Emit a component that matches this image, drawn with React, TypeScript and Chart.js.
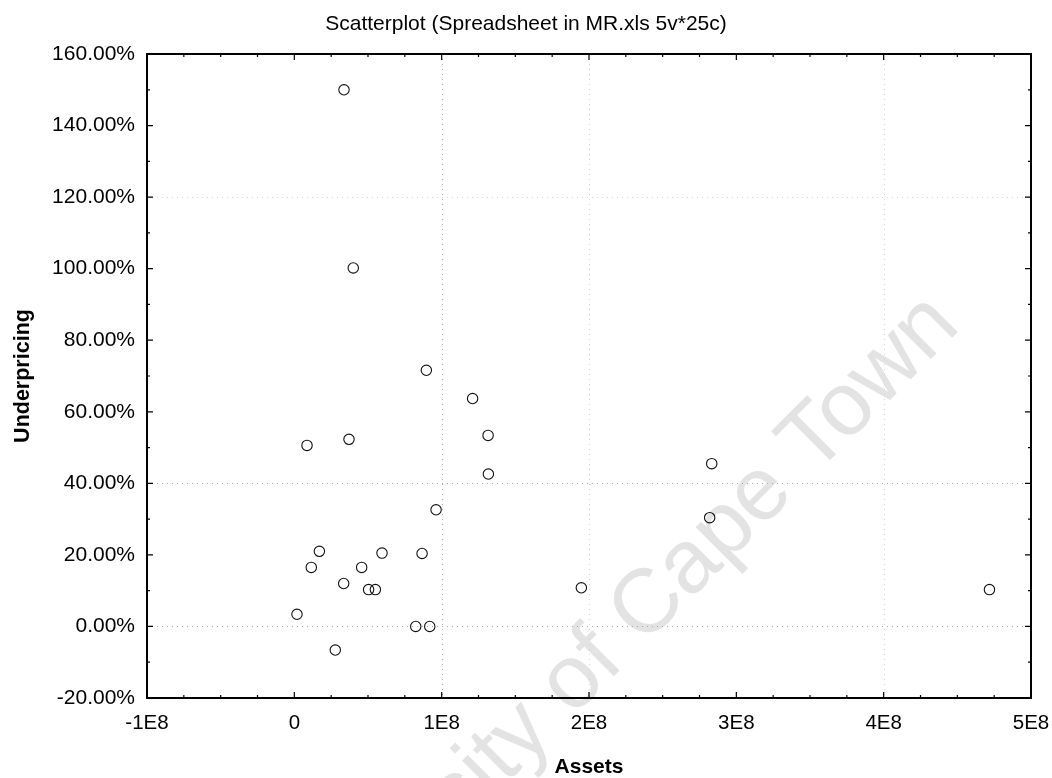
import React, { useEffect, useRef } from 'react';
import { Chart, registerables } from 'chart.js';

Chart.register(...registerables);

const TITLE = 'Scatterplot (Spreadsheet in MR.xls 5v*25c)';
const X_LABEL = 'Assets';
const Y_LABEL = 'Underpricing';
const WATERMARK = 'University of Cape Town';

// Assets (currency units) and Underpricing (%) for the 25 cases
const assets = [
  0.337e8, 0.40e8, 0.896e8, 0.086e8, 0.371e8, 1.21e8, 1.315e8, 1.317e8, 0.962e8,
  0.17e8, 0.115e8, 0.595e8, 0.867e8, 0.457e8, 0.335e8, 0.504e8, 0.55e8, 0.018e8,
  0.278e8, 0.824e8, 0.919e8, 1.948e8, 2.833e8, 2.819e8, 4.718e8,
];
const underpricing = [
  150, 100.2, 71.6, 50.6, 52.3, 63.7, 53.4, 42.6, 32.6,
  21.0, 16.5, 20.5, 20.4, 16.5, 12.0, 10.3, 10.3, 3.4,
  -6.6, 0, 0, 10.8, 45.5, 30.4, 10.3,
];

const X_MIN = -1e8;
const X_MAX = 5e8;
const X_STEP = 1e8;
const X_MINOR = 0.25e8;
const Y_MIN = -20;
const Y_MAX = 160;
const Y_STEP = 20;
const Y_MINOR = 10;

const xGridStrong = [1e8];
const xGridFaint = [2e8, 4e8];
const yGridStrong = [0, 40];
const yGridFaint = [120];

const FONT = '"Liberation Sans", Arial, Helvetica, sans-serif';

const xTickLabel = (v: number) => (v === 0 ? '0' : `${Math.round(v / 1e8)}E8`);
const yTickLabel = (v: number) => `${Number(v).toFixed(2)}%`;

const framePlugin = {
  id: 'statFrame',
  beforeDraw(chart: any) {
    const ctx = chart.ctx;
    ctx.save();
    ctx.fillStyle = '#e3e3e3';
    ctx.font = `90px ${FONT}`;
    ctx.translate(962, 328);
    ctx.rotate(-Math.PI / 4);
    ctx.textAlign = 'right';
    ctx.textBaseline = 'alphabetic';
    ctx.fillText(WATERMARK, 0, 0);
    ctx.restore();
  },
  beforeDatasetsDraw(chart: any) {
    const { ctx, chartArea: a, scales } = chart;
    const xs = scales.x;
    const ys = scales.y;
    ctx.save();
    ctx.lineWidth = 1;
    ctx.setLineDash([1, 4]);
    const vline = (v: number, c: string) => {
      const px = Math.round(xs.getPixelForValue(v)) + 0.5;
      ctx.strokeStyle = c;
      ctx.beginPath();
      ctx.moveTo(px, a.top);
      ctx.lineTo(px, a.bottom);
      ctx.stroke();
    };
    const hline = (v: number, c: string) => {
      const py = Math.round(ys.getPixelForValue(v)) + 0.5;
      ctx.strokeStyle = c;
      ctx.beginPath();
      ctx.moveTo(a.left, py);
      ctx.lineTo(a.right, py);
      ctx.stroke();
    };
    xGridStrong.forEach((v) => vline(v, '#a8a8a8'));
    xGridFaint.forEach((v) => vline(v, '#d4d4d4'));
    yGridStrong.forEach((v) => hline(v, '#a8a8a8'));
    yGridFaint.forEach((v) => hline(v, '#d4d4d4'));
    ctx.restore();
  },
  afterDatasetsDraw(chart: any) {
    const { ctx, chartArea: a, scales } = chart;
    const xs = scales.x;
    const ys = scales.y;
    ctx.save();
    ctx.strokeStyle = '#000';
    ctx.lineWidth = 1.2;
    const nx = Math.round((X_MAX - X_MIN) / X_MINOR);
    for (let i = 0; i <= nx; i++) {
      const v = X_MIN + i * X_MINOR;
      const major = Math.abs(v / X_STEP - Math.round(v / X_STEP)) < 1e-6;
      const len = major ? 6 : 3;
      const px = xs.getPixelForValue(v);
      ctx.beginPath();
      ctx.moveTo(px, a.bottom);
      ctx.lineTo(px, a.bottom - len);
      ctx.moveTo(px, a.top);
      ctx.lineTo(px, a.top + len);
      ctx.stroke();
    }
    const ny = Math.round((Y_MAX - Y_MIN) / Y_MINOR);
    for (let i = 0; i <= ny; i++) {
      const v = Y_MIN + i * Y_MINOR;
      const major = Math.abs(v / Y_STEP - Math.round(v / Y_STEP)) < 1e-6;
      const len = major ? 6 : 3;
      const py = ys.getPixelForValue(v);
      ctx.beginPath();
      ctx.moveTo(a.left, py);
      ctx.lineTo(a.left + len, py);
      ctx.moveTo(a.right, py);
      ctx.lineTo(a.right - len, py);
      ctx.stroke();
    }
    ctx.lineWidth = 2;
    ctx.strokeRect(a.left, a.top, a.right - a.left, a.bottom - a.top);
    ctx.restore();
  },
};

export default function App() {
  const ref = useRef<HTMLCanvasElement | null>(null);

  useEffect(() => {
    if (!ref.current) return;
    const points = assets.map((x, i) => ({ x, y: underpricing[i] }));
    const chart = new Chart(ref.current, {
      type: 'scatter',
      data: {
        datasets: [
          {
            label: Y_LABEL,
            data: points,
            pointStyle: 'circle',
            pointRadius: 5.2,
            pointBorderWidth: 1.1,
            borderColor: '#111',
            backgroundColor: 'rgba(0,0,0,0)',
            pointBackgroundColor: 'rgba(0,0,0,0)',
            pointBorderColor: '#111',
          },
        ],
      },
      options: {
        animation: false,
        responsive: true,
        maintainAspectRatio: false,
        layout: { padding: 0 },
        plugins: {
          legend: { display: false },
          tooltip: { enabled: false },
          title: {
            display: true,
            text: TITLE,
            color: '#000',
            font: { family: FONT, size: 21, weight: 'normal', lineHeight: 1.2 },
            padding: { top: 12, bottom: 16.8 },
          },
        },
        scales: {
          x: {
            type: 'linear',
            min: X_MIN,
            max: X_MAX,
            grid: { display: false, drawTicks: false },
            border: { display: false },
            ticks: {
              stepSize: X_STEP,
              autoSkip: false,
              maxRotation: 0,
              padding: 13,
              color: '#000',
              font: { family: FONT, size: 20.5 },
              callback: (v: any) => xTickLabel(Number(v)),
            },
            title: {
              display: true,
              text: X_LABEL,
              color: '#000',
              font: { family: FONT, size: 21, weight: 'bold', lineHeight: 1 },
              padding: { top: 0, bottom: 0 },
            },
            afterFit(scale: any) {
              scale.height = 80;
              scale.paddingRight = 21;
            },
          },
          y: {
            type: 'linear',
            min: Y_MIN,
            max: Y_MAX,
            grid: { display: false, drawTicks: false },
            border: { display: false },
            ticks: {
              stepSize: Y_STEP,
              autoSkip: false,
              padding: 12,
              color: '#000',
              font: { family: FONT, size: 21 },
              callback: (v: any) => yTickLabel(Number(v)),
            },
            title: {
              display: true,
              text: Y_LABEL,
              color: '#000',
              font: { family: FONT, size: 21.5, weight: 'bold', lineHeight: 1 },
              padding: { top: 12, bottom: 0 },
            },
            afterFit(scale: any) {
              scale.width = 147;
            },
          },
        },
      },
      plugins: [framePlugin],
    });
    return () => chart.destroy();
  }, []);

  return (
    <div
      style={{
        position: 'fixed',
        left: 0,
        top: 0,
        width: 1052,
        height: 778,
        background: '#fff',
      }}
    >
      <canvas ref={ref} />
    </div>
  );
}
